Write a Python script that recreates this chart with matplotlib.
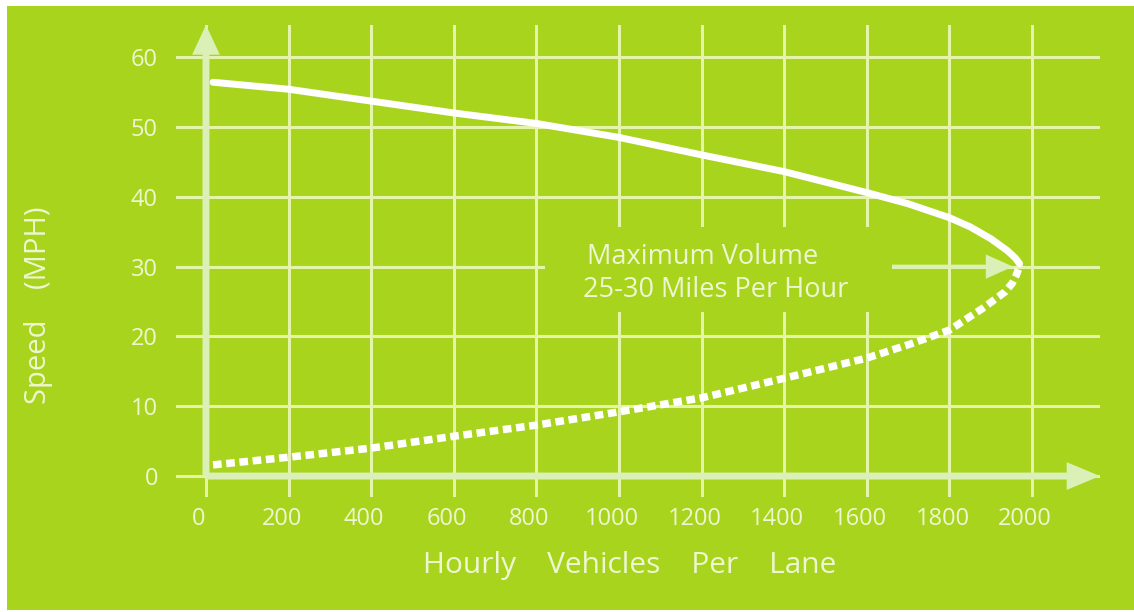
"""Speed vs. hourly volume per lane: the classic flow curve on a lime card."""

import matplotlib
matplotlib.use("Agg")
import matplotlib.pyplot as plt
from matplotlib.patches import Rectangle
from matplotlib.transforms import ScaledTranslation

# values
x_ticks = [0, 200, 400, 600, 800, 1000, 1200, 1400, 1600, 1800, 2000]
y_ticks = [0, 10, 20, 30, 40, 50, 60]

# free-flow branch (solid)
vol_upper = [17, 200, 400, 600, 800, 1000, 1200, 1400, 1600, 1700, 1800,
             1850, 1900, 1940, 1960, 1970]
speed_upper = [56.4, 55.4, 53.7, 52.0, 50.5, 48.5, 46.0, 43.6, 40.6, 39.0, 37.0,
               35.7, 34.0, 32.3, 31.2, 30.4]

# congested branch (dotted)
vol_lower = [17, 200, 400, 600, 800, 1000, 1200, 1400, 1600, 1700, 1800,
             1880, 1910, 1935, 1952, 1962, 1967]
speed_lower = [1.6, 2.7, 4.0, 5.7, 7.3, 9.2, 11.2, 14.0, 16.9, 18.8, 20.9,
               24.0, 25.3, 26.4, 27.6, 28.8, 29.6]

peak_speed = 30
note_lines = ["Maximum Volume", "25-30 Miles Per Hour"]

GREEN = "#a9d41e"
GRID = "#e4f4a8"
AXIS = "#dbf0b6"
TEXT = "#eef7d2"
FONT = "Open Sans"

W, H = 1134, 612
fig = plt.figure(figsize=(W / 100, H / 100), dpi=100, facecolor="white")
# green card with a thin white margin
fig.patches.append(Rectangle((7 / W, 2 / H), 1 - 7 / W, 1 - 8 / H,
                             transform=fig.transFigure, facecolor=GREEN,
                             edgecolor="none", zorder=-10))

ax = fig.add_axes([176 / W, 1 - 497 / H, (1100 - 176) / W, (497 - 25) / H])
ax.set_facecolor("none")
ax.set_xlim(-72.6, 2164.6)
ax.set_ylim(-3.0, 64.6)
for s in ax.spines.values():
    s.set_visible(False)

for v in x_ticks:
    ax.axvline(v, color=GRID, lw=2.2, zorder=1)
for v in y_ticks:
    ax.axhline(v, color=GRID, lw=2.2, zorder=1)

# clear the grid behind the note
ax.add_patch(Rectangle((821, 23.5), 840, 12.2, facecolor=GREEN,
                       edgecolor="none", zorder=1.5))

# axis arrows
ax.annotate("", xy=(0, 1), xycoords=("data", "axes fraction"),
            xytext=(0, 0), textcoords="data",
            arrowprops=dict(arrowstyle="simple,tail_width=0.25,head_width=1.0,head_length=1.07",
                            mutation_scale=20, color=AXIS, lw=0,
                            shrinkA=0, shrinkB=0), zorder=2)
ax.annotate("", xy=(1, 0), xycoords=("axes fraction", "data"),
            xytext=(0, 0), textcoords="data",
            arrowprops=dict(arrowstyle="simple,tail_width=0.25,head_width=1.0,head_length=1.2",
                            mutation_scale=20, color=AXIS, lw=0,
                            shrinkA=0, shrinkB=0), zorder=2)

ax.plot(vol_upper, speed_upper, color="white", lw=5.0,
        solid_capstyle="round", solid_joinstyle="round", zorder=3)
ax.plot(vol_lower, speed_lower, color="white", lw=5.4,
        linestyle=(0, (1.15, 0.62)), dash_capstyle="butt", zorder=3)

# pointer to the peak
ax.annotate("", xy=(1954, peak_speed), xytext=(1661, peak_speed),
            arrowprops=dict(arrowstyle="simple,tail_width=0.2,head_width=1.25,head_length=1.4",
                            mutation_scale=14, color=AXIS, lw=0,
                            shrinkA=0, shrinkB=0), zorder=2.5)

ax.text(922, 31.4, note_lines[0], color=TEXT, fontsize=19.5, family=FONT,
        ha="left", va="center", zorder=4)
ax.text(913, 26.6, note_lines[1], color=TEXT, fontsize=19.5, family=FONT,
        ha="left", va="center", zorder=4)

ax.set_xticks(x_ticks, [str(v) for v in x_ticks])
ax.set_yticks(y_ticks, [str(v) for v in y_ticks])
ax.tick_params(length=0, colors=TEXT, labelsize=17, pad=7)
ax.tick_params(axis="y", pad=13)
for lab in ax.get_xticklabels() + ax.get_yticklabels():
    lab.set_family(FONT)
shift = ScaledTranslation(-7 / 100, 0, fig.dpi_scale_trans)
for lab in ax.get_xticklabels():
    lab.set_transform(lab.get_transform() + shift)

fig.text(630 / W, 1 - 565 / H, "Hourly    Vehicles    Per    Lane", color=TEXT,
         fontsize=21.5, family=FONT, ha="center", va="center")
fig.text(39 / W, 1 - 305 / H, "Speed    (MPH)", color=TEXT, fontsize=21,
         family=FONT, ha="center", va="center", rotation=90)

fig.savefig("out.png", dpi=100, facecolor="white")
